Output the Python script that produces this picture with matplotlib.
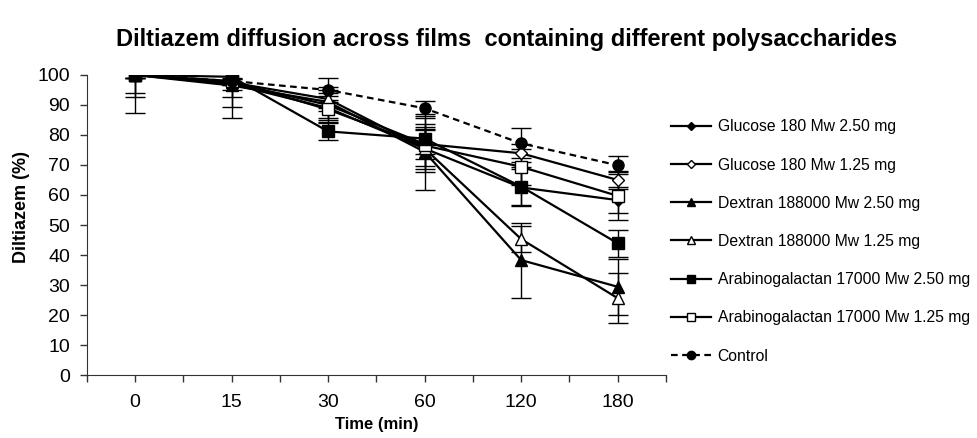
# Diltiazem diffusion across polysaccharide films

import numpy as np
import matplotlib.pyplot as plt

plt.rcParams['font.family'] = ['Liberation Sans', 'DejaVu Sans']

times = ['0', '15', '30', '60', '120', '180']

glc250 = [100, 97.0, 89.0, 75.5, 62.5, 58.3]
glc250_err = [6.1, 4.2, 4.0, 7.0, 6.0, 4.4]
glc125 = [100, 97.5, 90.0, 77.0, 73.9, 65.0]
glc125_err = [1.0, 1.0, 6.0, 5.0, 3.0, 3.0]
dex250 = [100, 96.5, 91.0, 74.4, 38.3, 29.4]
dex250_err = [12.8, 11.0, 3.0, 12.7, 12.5, 9.4]
dex125 = [100, 97.5, 92.0, 75.5, 45.3, 25.6]
dex125_err = [1.0, 1.0, 3.0, 6.0, 4.4, 8.4]
ara250 = [100, 99.4, 81.2, 78.8, 62.8, 43.9]
ara250_err = [7.2, 10.0, 3.0, 5.0, 6.6, 4.6]
ara125 = [100, 98.0, 88.5, 76.5, 69.4, 59.7]
ara125_err = [1.0, 1.0, 3.0, 9.0, 6.0, 8.0]
control = [100, 98.0, 95.0, 88.9, 77.2, 69.9]
control_err = [1.0, 3.0, 4.0, 2.5, 5.0, 3.0]

# label, values, errors, marker, face, linestyle, marker size, z-order
series = [
    ('Glucose 180 Mw 2.50 mg', glc250, glc250_err, 'D', 'k', '-', 6, 3),
    ('Glucose 180 Mw 1.25 mg', glc125, glc125_err, 'D', 'w', '-', 6, 3),
    ('Dextran 188000 Mw 2.50 mg', dex250, dex250_err, '^', 'k', '-', 8, 3),
    ('Dextran 188000 Mw 1.25 mg', dex125, dex125_err, '^', 'w', '-', 8, 3),
    ('Arabinogalactan 17000 Mw 2.50 mg', ara250, ara250_err, 's', 'k', '-', 8, 5),
    ('Arabinogalactan 17000 Mw 1.25 mg', ara125, ara125_err, 's', 'w', '-', 8, 3),
    ('Control', control, control_err, 'o', 'k', '--', 8, 4),
]

fig = plt.figure(figsize=(9.77, 4.38), dpi=100)
ax = fig.add_axes([0.0887, 0.1438, 0.5930, 0.6850])

x = np.arange(len(times))
for label, y, err, mk, fc, ls, ms, z in series:
    ax.errorbar(x, y, yerr=err, fmt='none', ecolor='k', elinewidth=1,
                capsize=7, capthick=1, zorder=2)
    ax.plot(x, y, color='k', linestyle=ls, linewidth=1.6, marker=mk,
            markersize=ms, markerfacecolor=fc, markeredgecolor='k',
            markeredgewidth=1, label=label, zorder=z,
            dashes=(3, 2) if ls == '--' else (None, None))

ax.set_xlim(-0.5, 5.5)
ax.set_ylim(0, 100)
ax.set_xticks(x)
ax.set_xticklabels(times)
ax.set_xticks(np.arange(-0.5, 5.6, 1.0), minor=True)
ax.set_yticks(np.arange(0, 101, 10))
ax.tick_params(axis='both', which='both', direction='out', length=5,
               width=1, labelsize=14, color='#333333')
ax.tick_params(axis='x', pad=9)
ax.tick_params(axis='y', pad=7)
for s in ['top', 'right']:
    ax.spines[s].set_visible(False)
for s in ['left', 'bottom']:
    ax.spines[s].set_color('#333333')

ax.set_xlabel('Time (min)', fontsize=12, fontweight='bold', labelpad=4)
ax.set_ylabel('Diltiazem (%)', fontsize=13, fontweight='bold')
ax.yaxis.set_label_coords(-0.098, 0.56)
fig.suptitle('Diltiazem diffusion across films  containing different polysaccharides',
             fontsize=17, fontweight='bold', x=0.518, y=0.935)

fig.legend(loc='upper left', bbox_to_anchor=(0.68, 0.742), frameon=False,
           fontsize=11.3, handlelength=2.6, handletextpad=0.4, labelspacing=1.48,
           markerscale=0.75, borderaxespad=0)

fig.savefig('out.png', dpi=100)
